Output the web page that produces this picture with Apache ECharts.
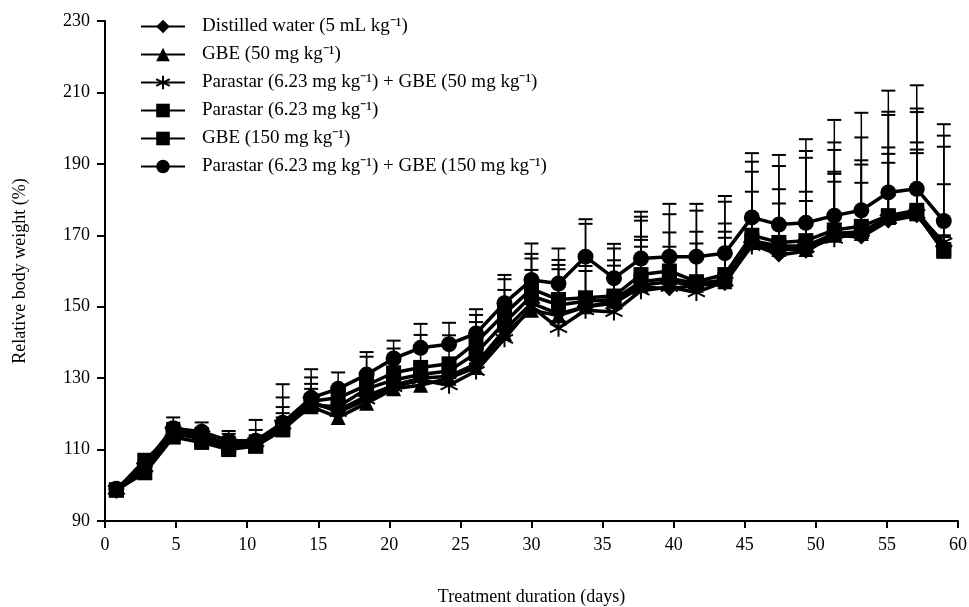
<!DOCTYPE html>
<html>
<head>
<meta charset="utf-8">
<script src="https://cdn.jsdelivr.net/npm/echarts@6/dist/echarts.min.js"></script>
<style>
  html, body { margin: 0; padding: 0; background: #fff; }
  #main { width: 969px; height: 607px; }
</style>
</head>
<body>
<div id="main"></div>
<script>
// treatment days
var days = [0.8, 2.8, 4.8, 6.8, 8.7, 10.6, 12.5, 14.5, 16.4, 18.4, 20.3, 22.2, 24.2, 26.1, 28.1, 30.0,
            31.9, 33.8, 35.8, 37.7, 39.7, 41.6, 43.6, 45.5, 47.4, 49.3, 51.3, 53.2, 55.1, 57.1, 59.0];

var names = [
  'Distilled water (5 mL kg⁻¹)',
  'GBE (50 mg kg⁻¹)',
  'Parastar (6.23 mg kg⁻¹) + GBE (50 mg kg⁻¹)',
  'Parastar (6.23 mg kg⁻¹)',
  'GBE (150 mg kg⁻¹)',
  'Parastar (6.23 mg kg⁻¹) + GBE (150 mg kg⁻¹)'
];

// relative body weight (%) means
var water = [98.7, 105, 115.5, 114, 111, 111.5, 116.5, 123, 121, 125, 128, 130, 130.5, 134, 143.5, 151,
             148, 150, 151, 155.5, 155, 156, 156.5, 167.5, 164.5, 165.5, 170, 169.5, 174, 175.5, 167];
var gbe50 = [98.7, 104, 115, 113.5, 111, 111, 116, 122, 119, 123, 127, 128, 130, 133, 142.5, 149,
             147.5, 150, 151.5, 156, 157, 156, 157, 168, 166, 166, 170, 170.5, 175, 176.5, 167.5];
var paraGbe50 = [98.7, 105, 115, 114, 111.5, 112, 117, 123.5, 120.5, 124, 127.5, 129.5, 128, 132, 141, 150,
                 144, 149, 148.5, 154.5, 155.5, 154, 157, 167, 166, 166.5, 169, 171, 174.5, 176, 168];
var para = [98.7, 107, 114.5, 113, 110.5, 111, 116, 123.5, 124.5, 128, 131.5, 133, 134, 140, 148, 155,
            152, 152.5, 153, 159, 160, 157, 159, 170, 168, 168.5, 171.5, 172.5, 175.5, 177, 166];
var gbe150 = [98.7, 103.5, 113.5, 112, 110, 111, 115.5, 122.5, 122, 127, 129.5, 131, 132, 137, 145.5, 153,
              150.5, 151.5, 152, 157, 158, 156.5, 157.5, 168.5, 167, 167, 170.5, 171, 175, 176, 165.5];
var paraGbe150 = [99, 106, 116, 115, 112.5, 112.5, 117.5, 124.5, 127, 131, 135.5, 138.5, 139.5, 142.5, 151, 157.5,
                  156.5, 164, 158, 163.5, 164, 164, 165, 175, 173, 173.5, 175.5, 177, 182, 183, 174];

// upper error bars
var waterErr = [1, 1.5, 2, 2, 2, 2, 3.7, 4, 2, 2, 2, 2, 2, 2, 2, 9.3,
                12.5, 10, 10.5, 14.1, 11.8, 11.7, 14.5, 14.7, 14.4, 16.7, 17.8, 20.3, 20.6, 20.5, 17.3];
var gbe50Err = [1, 1.5, 2, 2, 2, 2, 2, 2, 2, 2, 2, 2, 2, 2, 2, 2,
                2, 2, 2, 12.7, 2, 2, 12.3, 2, 2, 13.6, 17.2, 14.2, 17.8, 17.5, 2];
var paraGbe50Err = [1, 1.5, 2, 2, 2, 2, 2, 2, 2, 2, 2, 2, 2, 2, 2, 2,
                    2, 2, 2, 12.3, 2, 2, 2, 2, 2, 2, 16, 2, 15.8, 17, 2];
var paraErr = [1, 1.5, 2, 2, 3.9, 4.5, 8.6, 6.7, 2, 8, 6.8, 9.1, 8, 7.7, 9.7, 9.8,
               11.1, 20.7, 13.3, 16.2, 15.9, 19.9, 20.4, 20.6, 21.4, 25.1, 24.5, 24.9, 29.1, 28.5, 31.9];
var gbe150Err = [1, 1.5, 2, 2, 2, 2, 6.4, 5.9, 2, 2, 2, 2, 2, 8.7, 9.2, 10.5,
                 11.2, 9.9, 11, 17.1, 12.8, 14.5, 15.8, 19.3, 15.9, 24.7, 23.4, 20, 28.7, 28.5, 29.3];
var paraGbe150Err = [1, 1.5, 3, 2.6, 2.7, 5.8, 10.8, 8, 4.6, 6.3, 5, 6.7, 6, 6.8, 7.9, 10.2,
                     9.8, 10.5, 9.6, 13.1, 14.8, 14.8, 16, 18, 19.5, 23.4, 26.8, 27.3, 28.5, 29, 27.1];

var xTicks = [0, 60, 5];
var yTicks = [90, 230, 20];

var asterisk = 'path://M0,-10L0,10M-8.7,-5L8.7,5M-8.7,5L8.7,-5';

var groups = [
  { name: names[0], mean: water, err: waterErr, symbol: 'diamond', size: 15 },
  { name: names[1], mean: gbe50, err: gbe50Err, symbol: 'triangle', size: 15 },
  { name: names[2], mean: paraGbe50, err: paraGbe50Err, symbol: asterisk, size: 17 },
  { name: names[3], mean: para, err: paraErr, symbol: 'rect', size: 15 },
  { name: names[4], mean: gbe150, err: gbe150Err, symbol: 'rect', size: 15 },
  { name: names[5], mean: paraGbe150, err: paraGbe150Err, symbol: 'circle', size: 16 }
];

function errorBar(params, api) {
  var x = api.value(0), y = api.value(1), e = api.value(2);
  var p0 = api.coord([x, y]);
  var p1 = api.coord([x, y + e]);
  return {
    type: 'group',
    children: [
      { type: 'line', shape: { x1: p0[0], y1: p0[1], x2: p1[0], y2: p1[1] },
        style: { stroke: '#000', lineWidth: 1.5 } },
      { type: 'line', shape: { x1: p1[0] - 7, y1: p1[1], x2: p1[0] + 7, y2: p1[1] },
        style: { stroke: '#000', lineWidth: 2 } }
    ]
  };
}

var series = [];
groups.forEach(function (g) {
  series.push({
    name: g.name + ' err',
    type: 'custom',
    renderItem: errorBar,
    data: days.map(function (d, i) { return [d, g.mean[i], g.err[i]]; }),
    z: 1,
    silent: true
  });
});
groups.forEach(function (g) {
  var isStar = g.symbol === asterisk;
  series.push({
    name: g.name,
    type: 'line',
    data: days.map(function (d, i) { return [d, g.mean[i]]; }),
    symbol: g.symbol,
    symbolSize: g.size,
    showAllSymbol: true,
    lineStyle: { color: '#000', width: 3.5 },
    itemStyle: isStar ? { color: '#000', borderColor: '#000', borderWidth: 2 }
                      : { color: '#000', borderColor: '#000', borderWidth: 0 },
    z: 2
  });
});

var myChart = echarts.init(document.getElementById('main'));
var option = {
  animation: false,
  backgroundColor: '#fff',
  textStyle: { fontFamily: 'Liberation Serif', color: '#000' },
  grid: { left: 105, right: 11, top: 21, bottom: 86, containLabel: false, outerBoundsMode: 'none' },
  legend: {
    data: names,
    orient: 'vertical',
    left: 135,
    top: 12,
    itemWidth: 44,
    itemHeight: 17,
    itemGap: 9,
    textStyle: { fontFamily: 'Liberation Serif', fontSize: 19, color: '#000', padding: [0, 0, 0, 12] }
  },
  xAxis: {
    type: 'value',
    min: xTicks[0],
    max: xTicks[1],
    interval: xTicks[2],
    name: 'Treatment duration (days)',
    nameLocation: 'middle',
    nameGap: 67,
    nameTextStyle: { fontFamily: 'Liberation Serif', fontSize: 18, color: '#000' },
    axisLine: { lineStyle: { color: '#000', width: 2 } },
    axisTick: { length: 7, lineStyle: { color: '#000', width: 2 } },
    axisLabel: { fontFamily: 'Liberation Serif', fontSize: 18, color: '#000', margin: 15 },
    splitLine: { show: false }
  },
  yAxis: {
    type: 'value',
    min: yTicks[0],
    max: yTicks[1],
    interval: yTicks[2],
    name: 'Relative body weight (%)',
    nameLocation: 'middle',
    nameGap: 76,
    nameTextStyle: { fontFamily: 'Liberation Serif', fontSize: 18, color: '#000' },
    axisLine: { show: true, lineStyle: { color: '#000', width: 2 } },
    axisTick: { show: true, length: 8, lineStyle: { color: '#000', width: 2 } },
    axisLabel: { fontFamily: 'Liberation Serif', fontSize: 18, color: '#000', margin: 15 },
    splitLine: { show: false }
  },
  series: series
};
myChart.setOption(option);
</script>
</body>
</html>
